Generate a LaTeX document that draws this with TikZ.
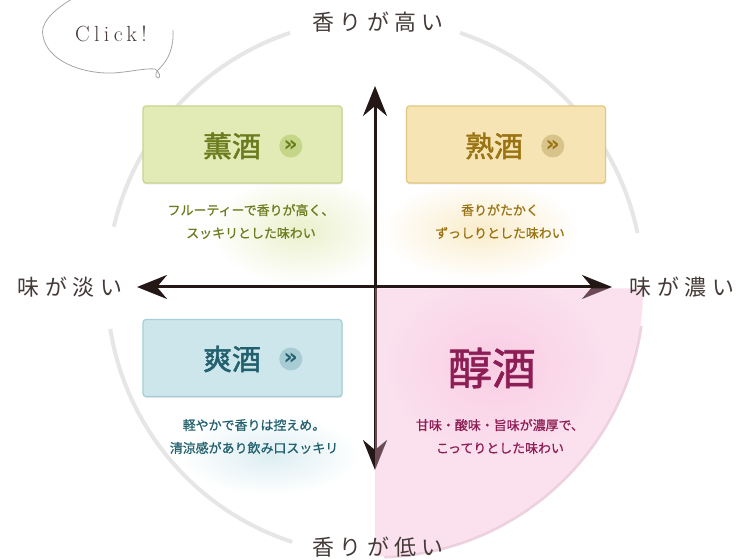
\documentclass[tikz,border=0pt]{standalone}
\usepackage{fontspec}
\usepackage{tikz}
\usetikzlibrary{arrows.meta,%
                shapes,positioning,shadows}
\newfontfamily\jpfont{Noto Sans CJK JP}
\newfontfamily\jpbold[FakeBold=1.6]{Noto Sans CJK JP}
\newfontfamily\jpmed[FakeBold=0.8]{Noto Sans CJK JP}
\newfontfamily\jpaxis[LetterSpace=25]{Noto Sans CJK JP}
\newfontfamily\iconfont{DejaVu Sans}
\newfontfamily\clickfont[LetterSpace=20]{Latin Modern Roman}
\definecolor{axisc}{HTML}{231815}
\definecolor{ringc}{HTML}{E6E6E6}
\definecolor{kunfill}{HTML}{E2EAB6}
\definecolor{kunline}{HTML}{C8D68C}
\definecolor{kuntext}{HTML}{6B7C1E}
\definecolor{kunicon}{HTML}{C6D688}
\definecolor{jukufill}{HTML}{F7E4B4}
\definecolor{jukuline}{HTML}{E3C77E}
\definecolor{jukutext}{HTML}{9A7412}
\definecolor{jukuicon}{HTML}{D8C38B}
\definecolor{soufill}{HTML}{CDE6EC}
\definecolor{souline}{HTML}{A3D0D9}
\definecolor{soutext}{HTML}{22606E}
\definecolor{souicon}{HTML}{A8CCD4}
\definecolor{junfill}{HTML}{F4AAD0}
\definecolor{junblob}{HTML}{EF72B2}
\definecolor{junrim}{HTML}{EBD3DF}
\definecolor{juntext}{HTML}{8D1D55}
\tikzstyle{box}=[rectangle,rounded corners=3bp,minimum width=199bp,minimum height=77bp,line width=1.2bp,drop shadow={opacity=0.2,shadow xshift=0.6bp,shadow yshift=-1.5bp}]
\tikzstyle{title}=[inner sep=0pt,font=\jpbold\fontsize{29}{29}\selectfont]
\tikzstyle{icon}=[circle,minimum size=23bp,inner sep=0pt,font=\iconfont\bfseries\fontsize{22}{22}\selectfont]
\tikzstyle{desc}=[align=center,inner sep=0pt,font=\jpmed\fontsize{13}{23}\selectfont]
\tikzstyle{axislabel}=[inner sep=0pt,text=axisc!85,font=\jpaxis\fontsize{22}{22}\selectfont]
\tikzstyle{axis}=[line width=3bp,draw=axisc,{Stealth[length=30bp,width=24bp,inset=10bp]}-{Stealth[length=30bp,width=24bp,inset=10bp]}]
\tikzstyle{ring}=[line width=4bp,draw=ringc]

\begin{document}
\begin{tikzpicture}[>=latex,line join=bevel]
	\useasboundingbox (0bp,0bp) rectangle (750bp,560bp);
	\fill[white] (0bp,0bp) rectangle (750bp,560bp);
	%% haze
	\shade[inner color=kunfill!70,outer color=white] (300bp,330bp) ellipse (90bp and 55bp);
	\shade[inner color=jukufill!70,outer color=white] (480bp,330bp) ellipse (100bp and 50bp);
	\shade[inner color=soufill!70,outer color=white] (270bp,105bp) ellipse (90bp and 40bp);
	%% circle
	\coordinate (O) at (375bp,273bp);
	\draw [ring] (O) ++(71.5:268bp) arc (71.5:11.6:268bp);
	\draw [ring] (O) ++(108.5:268bp) arc (108.5:167:268bp);
	\draw [ring] (O) ++(189:268bp) arc (189:252:268bp);
	%% axes
	\coordinate (T) at (375bp,474bp);
	\coordinate (Bt) at (375bp,90bp);
	\coordinate (L) at (137bp,273bp);
	\coordinate (R) at (612bp,273bp);
	\draw [axis] (L) -- (R);
	\draw [axis] (Bt) -- (T);
	%% pink quarter
	\coordinate (P) at (375bp,271.5bp);
	\draw [junrim,line width=2.5bp] (P) ++(-8:269bp) arc (-8:-88:269bp);
	\begin{scope}[transparency group,opacity=0.35]
	  \fill[junfill] (P) -- ++(0:268bp) arc (0:-90:268bp) -- cycle;
	  \begin{scope}
	    \clip (P) -- ++(0:268bp) arc (0:-90:268bp) -- cycle;
	    \shade[inner color=junblob,outer color=junfill] (495bp,195bp) ellipse (115bp and 95bp);
	  \end{scope}
	\end{scope}
	%% axis labels
	\node (hi) at (378bp,538bp) [axislabel] {香りが高い};
	\node (lo) at (378bp,13bp) [axislabel] {香りが低い};
	\node (light) at (70bp,273bp) [axislabel] {味が淡い};
	\node (rich) at (682bp,273bp) [axislabel] {味が濃い};
	%% boxes
	\node (kunB) at (242.5bp,415.5bp) [box,fill=kunfill,draw=kunline] {};
	  \node (kun) at (232bp,414bp) [title,text=kuntext] {薫酒};
	  \node (kunI) [icon,fill=kunicon,text=kuntext,right=18bp of kun] {»};
	\node (jukuB) at (506bp,415.5bp) [box,fill=jukufill,draw=jukuline] {};
	  \node (juku) at (494bp,414bp) [title,text=jukutext] {熟酒};
	  \node (jukuI) [icon,fill=jukuicon,text=jukutext,right=18bp of juku] {»};
	\node (souB) at (242.5bp,202bp) [box,fill=soufill,draw=souline] {};
	  \node (sou) at (232bp,201bp) [title,text=soutext] {爽酒};
	  \node (souI) [icon,fill=souicon,text=soutext,right=18bp of sou] {»};
	\node (jun) at (492bp,192bp) [title,text=juntext,font=\jpbold\fontsize{44}{44}\selectfont] {醇酒};
	%% descriptions
	\node (kunD) at (251bp,338.5bp) [desc,text=kuntext] {フルーティーで香りが高く、\\スッキリとした味わい};
	\node (jukuD) at (500bp,338.5bp) [desc,text=jukutext] {香りがたかく\\ずっしりとした味わい};
	\node (souD) at (254bp,123.5bp) [desc,text=soutext] {軽やかで香りは控えめ。\\清涼感があり飲み口スッキリ};
	\node (junD) at (500bp,123.5bp) [desc,text=juntext] {甘味・酸味・旨味が濃厚で、\\こってりとした味わい};
	%% click bubble
	\node (click) at (111bp,526bp) [font=\clickfont\fontsize{22}{22}\selectfont,text=axisc!85] {Click!};
	\draw [gray!70,line width=0.8bp] (72bp,561bp) ..controls (50bp,548bp) and (40bp,535bp) .. (43bp,524bp)
	  ..controls (47bp,500bp) and (80bp,486bp) .. (113bp,487bp)
	  ..controls (130bp,488bp) and (145bp,492bp) .. (155bp,491bp)
	  ..controls (160bp,488bp) and (161bp,482bp) .. (158bp,482bp)
	  ..controls (154bp,483bp) and (156bp,489bp) .. (160bp,492bp)
	  ..controls (168bp,500bp) and (174bp,512bp) .. (173bp,530bp);
	%
\end{tikzpicture}
\end{document}
